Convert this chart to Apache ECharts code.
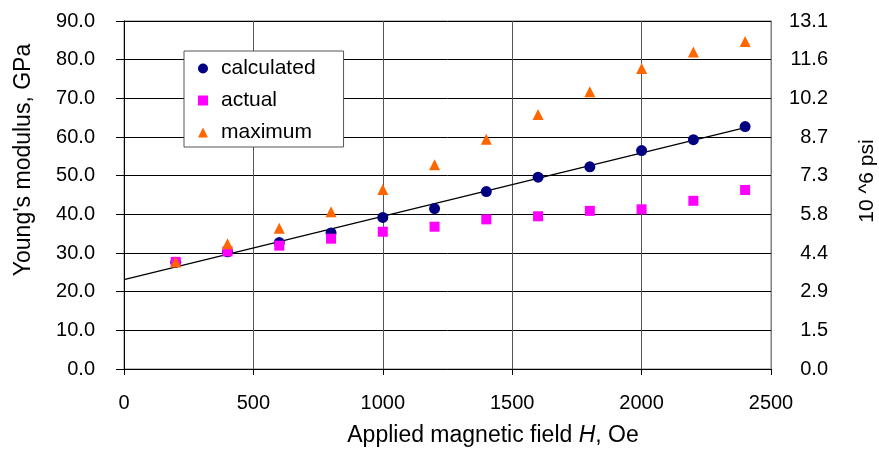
<!DOCTYPE html>
<html>
<head>
<meta charset="utf-8">
<script src="https://cdn.jsdelivr.net/npm/echarts@6/dist/echarts.min.js"></script>
<style>
  html, body { margin: 0; padding: 0; background: #fff; }
  #chart { width: 879px; height: 449px; }
</style>
</head>
<body>
<div id="chart"></div>
<script>
// Applied field H (Oe)
var field = [200, 400, 600, 800, 1000, 1200, 1400, 1600, 1800, 2000, 2200, 2400];
// Young's modulus (GPa)
var calculated = [27.6, 30.3, 32.7, 35.2, 39.2, 41.5, 45.9, 49.6, 52.3, 56.5, 59.3, 62.7];
var actual     = [27.7, 30.4, 31.9, 33.7, 35.5, 36.8, 38.7, 39.5, 40.9, 41.3, 43.5, 46.3];
var maximum    = [27.7, 32.4, 36.4, 40.7, 46.4, 52.8, 59.4, 65.8, 71.7, 77.7, 82.0, 84.7];
// Linear trend of the calculated values (end points)
var trendField = [0, 2400];
var trendValue = [23.1, 62.4];
// Secondary axis labels (10^6 psi) at every 10 GPa
var psiTicks = ['0.0', '1.5', '2.9', '4.4', '5.8', '7.3', '8.7', '10.2', '11.6', '13.1'];

function pairs(xs, ys) {
  return xs.map(function (x, i) { return [x, ys[i]]; });
}

var FONT = "'Liberation Sans', Arial, sans-serif";
var chart = echarts.init(document.getElementById('chart'), null, { renderer: 'canvas' });

chart.setOption({
  backgroundColor: '#fff',
  animation: false,
  textStyle: { fontFamily: FONT, color: '#000' },
  grid: {
    left: 124, right: 108, top: 21, bottom: 80,
    containLabel: false, outerBoundsMode: 'none',
    show: true, borderColor: '#808080', borderWidth: 1, backgroundColor: 'transparent'
  },
  legend: {
    orient: 'vertical',
    left: 184, top: 51,
    data: [
      { name: 'calculated', icon: 'circle' },
      { name: 'actual', icon: 'rect' },
      { name: 'maximum', icon: 'triangle' }
    ],
    itemWidth: 10, itemHeight: 10, itemGap: 11,
    padding: [7, 28, 4, 14],
    backgroundColor: '#fff',
    borderColor: '#555', borderWidth: 1,
    textStyle: { fontFamily: FONT, fontSize: 21, color: '#000', padding: [0, 0, 0, 8] }
  },
  xAxis: {
    type: 'value', min: 0, max: 2500, interval: 500,
    name: 'Applied magnetic field {i|H}, Oe',
    nameLocation: 'middle', nameGap: 55,
    nameTextStyle: {
      fontFamily: FONT, fontSize: 23, color: '#000', padding: [0, 0, 0, 91],
      rich: { i: { fontFamily: FONT, fontSize: 23, fontStyle: 'italic', color: '#000' } }
    },
    axisLine: { show: true, lineStyle: { color: '#000', width: 1 } },
    axisTick: { show: true, inside: false, length: 6, lineStyle: { color: '#000' } },
    axisLabel: {
      fontFamily: FONT, fontSize: 20, color: '#000', margin: 24,
      formatter: function (v) { return String(v); }
    },
    splitLine: { show: true, lineStyle: { color: '#555', width: 1 } }
  },
  yAxis: [
    {
      type: 'value', min: 0, max: 90, interval: 10, position: 'left',
      name: "Young's modulus, GPa",
      nameLocation: 'middle', nameGap: 89, nameRotate: 90,
      nameTextStyle: { fontFamily: FONT, fontSize: 23, color: '#000', padding: [0, 0, 0, 70] },
      axisLine: { show: true, lineStyle: { color: '#000', width: 1 } },
      axisTick: { show: true, inside: false, length: 8, lineStyle: { color: '#000' } },
      axisLabel: {
        fontFamily: FONT, fontSize: 20, color: '#000', margin: 29,
        formatter: function (v) { return v.toFixed(1); }
      },
      splitLine: { show: true, lineStyle: { color: '#000', width: 1 } }
    },
    {
      type: 'value', min: 0, max: 90, interval: 10, position: 'right',
      name: '10 ^6 psi',
      nameLocation: 'middle', nameGap: 86, nameRotate: 90,
      nameTextStyle: { fontFamily: FONT, fontSize: 21, color: '#000', padding: [0, 0, 0, 28] },
      axisLine: { show: true, lineStyle: { color: '#808080', width: 1 } },
      axisTick: { show: false },
      axisLabel: {
        fontFamily: FONT, fontSize: 20, color: '#000', margin: 57, align: 'right',
        formatter: function (v) { return psiTicks[Math.round(v / 10)]; }
      },
      splitLine: { show: false }
    }
  ],
  series: [
    {
      name: 'trend', type: 'line', data: pairs(trendField, trendValue),
      symbol: 'none', silent: true,
      lineStyle: { color: '#000', width: 1.3 }, z: 2
    },
    {
      name: 'calculated', type: 'scatter', data: pairs(field, calculated),
      symbol: 'circle', symbolSize: 11,
      itemStyle: { color: '#000080', opacity: 1 }, z: 3
    },
    {
      name: 'actual', type: 'scatter', data: pairs(field, actual),
      symbol: 'rect', symbolSize: 10,
      itemStyle: { color: '#ff00ff', opacity: 1 }, z: 4
    },
    {
      name: 'maximum', type: 'scatter', data: pairs(field, maximum),
      symbol: 'triangle', symbolSize: 11,
      itemStyle: { color: '#ff6600', opacity: 1 }, z: 5
    }
  ]
});
</script>
</body>
</html>
